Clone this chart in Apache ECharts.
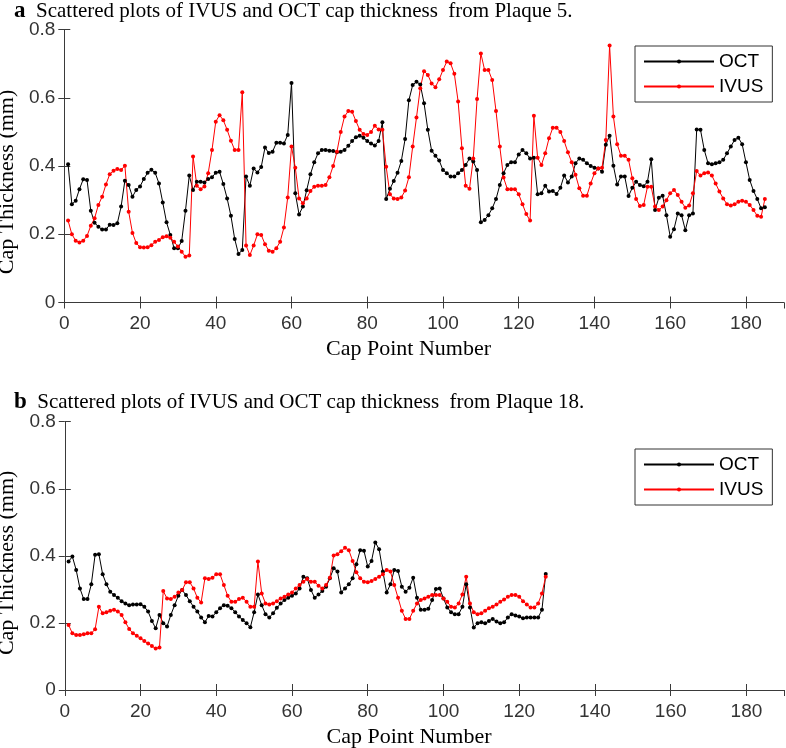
<!DOCTYPE html>
<html><head><meta charset="utf-8">
<script src="https://cdn.jsdelivr.net/npm/echarts/dist/echarts.min.js"></script>
<style>html,body{margin:0;padding:0;background:#fff}#c{width:786px;height:748px}</style>
</head><body><div id="c"></div>
<script>
// Panel a (Plaque 5): cap points 1..185
const octA = [0.405,0.288,0.298,0.332,0.361,0.359,0.269,0.234,0.222,0.214,0.214,0.228,0.227,0.232,0.281,0.357,0.344,0.31,0.33,0.34,
0.362,0.38,0.389,0.38,0.349,0.293,0.235,0.198,0.159,0.159,0.18,0.269,0.372,0.33,0.354,0.354,0.352,0.362,0.367,0.38,
0.383,0.347,0.305,0.254,0.186,0.142,0.154,0.369,0.342,0.393,0.381,0.397,0.454,0.438,0.442,0.468,0.468,0.466,0.491,0.643,
0.32,0.258,0.281,0.329,0.376,0.411,0.437,0.447,0.447,0.445,0.444,0.44,0.442,0.447,0.459,0.473,0.484,0.489,0.483,0.473,
0.466,0.46,0.473,0.528,0.303,0.333,0.356,0.38,0.415,0.479,0.593,0.637,0.647,0.639,0.584,0.506,0.445,0.43,0.416,0.388,
0.379,0.369,0.369,0.379,0.388,0.403,0.422,0.413,0.388,0.235,0.242,0.256,0.276,0.303,0.344,0.379,0.403,0.411,0.411,0.434,
0.447,0.437,0.422,0.424,0.317,0.32,0.342,0.325,0.327,0.318,0.336,0.372,0.352,0.369,0.408,0.422,0.418,0.408,0.4,0.395,
0.393,0.383,0.462,0.489,0.401,0.346,0.369,0.369,0.312,0.336,0.354,0.344,0.341,0.354,0.42,0.271,0.307,0.313,0.256,0.193,
0.215,0.261,0.256,0.212,0.256,0.261,0.507,0.506,0.447,0.408,0.405,0.408,0.411,0.418,0.437,0.457,0.476,0.483,0.464,0.411,
0.359,0.327,0.303,0.276,0.279];
const ivusA = [0.24,0.2,0.181,0.176,0.181,0.195,0.225,0.247,0.286,0.31,0.346,0.376,0.386,0.391,0.388,0.401,0.266,0.204,0.174,0.162,
0.161,0.162,0.168,0.178,0.183,0.191,0.194,0.19,0.178,0.164,0.149,0.134,0.138,0.428,0.342,0.332,0.34,0.379,0.447,0.53,
0.549,0.534,0.506,0.474,0.447,0.447,0.616,0.167,0.139,0.167,0.2,0.198,0.171,0.152,0.149,0.159,0.178,0.22,0.308,0.457,
0.395,0.305,0.291,0.305,0.327,0.339,0.342,0.342,0.344,0.367,0.4,0.442,0.5,0.545,0.561,0.559,0.532,0.506,0.494,0.491,
0.5,0.518,0.507,0.506,0.398,0.317,0.305,0.303,0.308,0.328,0.367,0.457,0.542,0.628,0.678,0.667,0.642,0.631,0.654,0.681,
0.706,0.701,0.67,0.589,0.452,0.342,0.333,0.422,0.596,0.73,0.681,0.681,0.652,0.561,0.457,0.366,0.332,0.332,0.332,0.317,
0.288,0.259,0.24,0.547,0.424,0.403,0.437,0.481,0.512,0.512,0.5,0.473,0.44,0.411,0.374,0.335,0.313,0.313,0.349,0.379,
0.393,0.395,0.476,0.753,0.545,0.464,0.43,0.43,0.418,0.364,0.303,0.283,0.286,0.339,0.339,0.281,0.271,0.281,0.3,0.32,
0.33,0.315,0.295,0.278,0.284,0.32,0.385,0.372,0.379,0.381,0.372,0.349,0.325,0.305,0.288,0.284,0.288,0.295,0.298,0.295,
0.286,0.271,0.254,0.251,0.303];
// Panel b (Plaque 18): cap points 1..127
const octB = [0.383,0.398,0.358,0.303,0.271,0.271,0.315,0.403,0.405,0.345,0.315,0.293,0.283,0.275,0.265,0.258,0.253,0.255,0.255,0.256,
0.248,0.234,0.206,0.184,0.224,0.199,0.189,0.224,0.253,0.281,0.298,0.283,0.265,0.248,0.234,0.216,0.202,0.221,0.219,0.232,
0.244,0.253,0.251,0.244,0.232,0.219,0.209,0.199,0.187,0.232,0.285,0.253,0.226,0.216,0.229,0.245,0.258,0.268,0.275,0.281,
0.288,0.303,0.338,0.333,0.298,0.275,0.285,0.295,0.308,0.333,0.363,0.353,0.291,0.303,0.315,0.333,0.375,0.417,0.415,0.368,
0.385,0.44,0.42,0.353,0.291,0.315,0.358,0.355,0.308,0.293,0.305,0.335,0.275,0.239,0.239,0.242,0.268,0.301,0.303,0.273,
0.246,0.232,0.226,0.226,0.248,0.315,0.246,0.186,0.199,0.202,0.199,0.206,0.212,0.204,0.199,0.202,0.216,0.226,0.222,0.219,
0.214,0.216,0.216,0.216,0.216,0.239,0.346];
const ivusB = [0.194,0.169,0.164,0.164,0.166,0.169,0.169,0.181,0.248,0.229,0.232,0.236,0.239,0.234,0.224,0.202,0.182,0.169,0.162,0.154,
0.146,0.139,0.131,0.124,0.127,0.295,0.273,0.271,0.278,0.291,0.298,0.321,0.321,0.303,0.275,0.261,0.333,0.331,0.335,0.345,
0.345,0.313,0.281,0.263,0.263,0.271,0.275,0.263,0.248,0.248,0.383,0.288,0.258,0.255,0.258,0.265,0.273,0.278,0.285,0.291,
0.303,0.313,0.323,0.331,0.323,0.323,0.311,0.303,0.313,0.335,0.401,0.405,0.414,0.424,0.417,0.385,0.351,0.333,0.323,0.321,
0.325,0.331,0.338,0.345,0.358,0.353,0.313,0.275,0.236,0.212,0.212,0.236,0.258,0.268,0.273,0.278,0.283,0.283,0.283,0.273,
0.263,0.248,0.246,0.258,0.285,0.338,0.258,0.232,0.226,0.229,0.236,0.244,0.248,0.255,0.263,0.27,0.278,0.283,0.283,0.278,
0.265,0.255,0.246,0.246,0.258,0.288,0.338];
const xTicks = [0,20,40,60,80,100,120,140,160,180];
const yTicks = [0,0.2,0.4,0.6,0.8];
const seriesNames = ['OCT','IVUS'];
const titleA = 'Scattered plots of IVUS and OCT cap thickness  from Plaque 5.';
const titleB = 'Scattered plots of IVUS and OCT cap thickness  from Plaque 18.';

const toPairs = arr => arr.map((v,i)=>[i+1, v]);
const AX = '#3a3a3a', LBL = '#333';
const SANS = 'Liberation Sans, Arial, sans-serif';
const SERIF = 'Liberation Serif, Times New Roman, serif';

function xAxes(g){
  return [{
    type:'value', gridIndex:g, min:0, max:190, interval:20, position:'bottom',
    axisLine:{show:true, lineStyle:{color:AX, width:1}},
    axisTick:{show:true, inside:true, length:6, lineStyle:{color:AX}},
    axisLabel:{show:true, margin:12, fontSize:19, color:LBL, fontFamily:SANS, showMaxLabel:false,
      formatter: v => xTicks.includes(v) ? String(v) : ''},
    splitLine:{show:false},
    name:'Cap Point Number', nameLocation:'middle', nameGap:36,
    nameTextStyle:{fontSize:22, fontFamily:SERIF, color:'#000', padding:[0,31,0,0]}
  },{
    type:'value', gridIndex:g, min:0, max:190, interval:20, position:'top',
    axisLine:{show:true, lineStyle:{color:AX, width:1}},
    axisTick:{show:true, inside:true, length:6, lineStyle:{color:AX}},
    axisLabel:{show:false}, splitLine:{show:false}
  }];
}
function yAxes(g, shift){
  return [{
    type:'value', gridIndex:g, min:0, max:0.8, interval:0.2, position:'left',
    axisLine:{show:true, lineStyle:{color:AX, width:1}},
    axisTick:{show:true, inside:true, length:6, lineStyle:{color:AX}},
    axisLabel:{show:true, margin:9, fontSize:19, color:LBL, fontFamily:SANS,
      formatter: v => { const t = yTicks.find(x=>Math.abs(x-v)<1e-9); return t===undefined?'':(t===0?'0':t.toFixed(1)); }},
    splitLine:{show:false},
    name:'Cap Thickness (mm)', nameLocation:'middle', nameGap:35,
    nameTextStyle:{fontSize:22, fontFamily:SERIF, color:'#000', padding:[0,shift,0,0]}
  },{
    type:'value', gridIndex:g, min:0, max:0.8, interval:0.2, position:'right',
    axisLine:{show:true, lineStyle:{color:AX, width:1}},
    axisTick:{show:true, inside:true, length:6, lineStyle:{color:AX}},
    axisLabel:{show:false}, splitLine:{show:false}
  }];
}
function mkSeries(name, data, color, xi, yi){
  return {type:'line', name, data:toPairs(data), xAxisIndex:xi, yAxisIndex:yi,
    symbol:'circle', symbolSize:4, showSymbol:true, animation:false,
    itemStyle:{color}, lineStyle:{color, width:1}};
}
function legendAt(top){
  return {data:seriesNames, orient:'vertical', left:635, top:top,
    backgroundColor:'#fff', borderColor:'#333', borderWidth:1,
    padding:[6,9,6,8], itemWidth:70, itemHeight:5, itemGap:6,
    textStyle:{fontSize:19, fontFamily:SANS, color:'#000'}};
}

const chart = echarts.init(document.getElementById('c'), null, {renderer:'canvas'});
chart.setOption({
  animation:false,
  backgroundColor:'#fff',
  title:[
    {text:'{b|a}  '+titleA, left:9, top:-5, textStyle:{fontSize:21, fontFamily:SERIF, fontWeight:'normal', color:'#000',
      rich:{b:{fontSize:23, fontWeight:'bold', fontFamily:SERIF, color:'#000'}}}},
    {text:'{b|b}  '+titleB, left:9, top:386, textStyle:{fontSize:21, fontFamily:SERIF, fontWeight:'normal', color:'#000',
      rich:{b:{fontSize:23, fontWeight:'bold', fontFamily:SERIF, color:'#000'}}}}
  ],
  grid:[
    {left:64.3, top:29.5, width:719.5, height:273, containLabel:false, outerBoundsMode:'none'},
    {left:64.8, top:421.7, width:719.5, height:268.3, containLabel:false, outerBoundsMode:'none'}
  ],
  xAxis:[...xAxes(0), ...xAxes(1)],
  yAxis:[...yAxes(0, 32), ...yAxes(1, 14)],
  legend:[legendAt(46), legendAt(449)],
  series:[
    mkSeries('OCT', octA, '#000000', 0, 0),
    mkSeries('IVUS', ivusA, '#ff0000', 0, 0),
    mkSeries('OCT', octB, '#000000', 2, 2),
    mkSeries('IVUS', ivusB, '#ff0000', 2, 2)
  ]
});
</script></body></html>
